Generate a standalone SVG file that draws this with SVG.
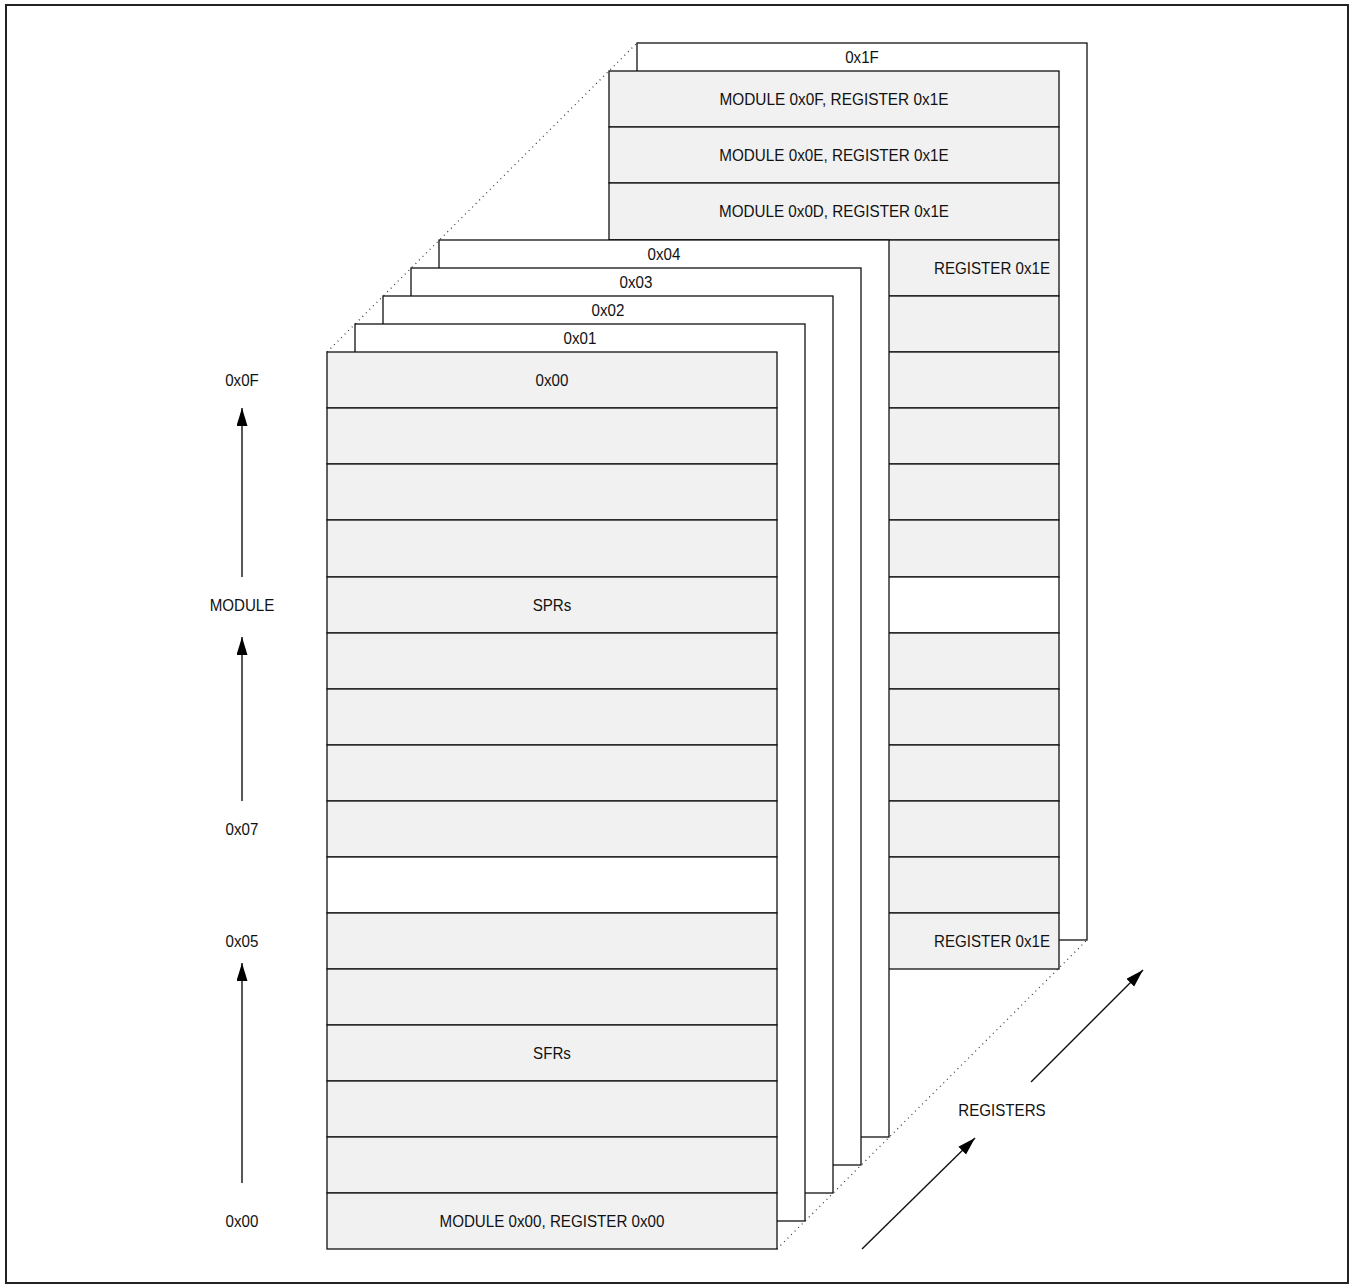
<svg xmlns="http://www.w3.org/2000/svg" width="1351" height="1285" viewBox="0 0 1351 1285">
<style>
text{font-family:"Liberation Sans",Arial,sans-serif;font-size:17px;fill:#111;text-anchor:middle}
.lay{fill:#fff;stroke:#111;stroke-width:1.3}
.row{fill:#f1f1f1;stroke:#111;stroke-width:1.3}
.wrow{fill:#fff;stroke:#111;stroke-width:1.3}
.dot{stroke:#333;stroke-width:1.2;stroke-dasharray:1 4;fill:none}
.arr{stroke:#111;stroke-width:1.4;fill:none;marker-end:url(#ah)}
</style>
<defs>
<marker id="ah" markerUnits="userSpaceOnUse" markerWidth="18" markerHeight="12" refX="18" refY="5.5" orient="auto">
<path d="M0,0 L18,5.5 L0,11 z" fill="#000"/>
</marker>
</defs>
<rect x="0" y="0" width="1351" height="1285" fill="#fff"/>
<rect x="6" y="5" width="1342" height="1278" fill="none" stroke="#222" stroke-width="2"/>

<g id="dotted-guides">
<line class="dot" x1="327" y1="352" x2="637" y2="43"/>
<line class="dot" x1="777" y1="1249" x2="1087" y2="940"/>
</g>

<g id="layer-0x1F">
<rect class="lay" x="637" y="43" width="450" height="897"/>
<text x="862" y="63" textLength="33.6" lengthAdjust="spacingAndGlyphs">0x1F</text>
</g>

<g id="layer-0x1E">
<rect class="row" x="609" y="71" width="450" height="56"/>
<rect class="row" x="609" y="127" width="450" height="56"/>
<rect class="row" x="609" y="183" width="450" height="57"/>
<rect class="row" x="609" y="240" width="450" height="56"/>
<rect class="row" x="609" y="296" width="450" height="56"/>
<rect class="row" x="609" y="352" width="450" height="56"/>
<rect class="row" x="609" y="408" width="450" height="56"/>
<rect class="row" x="609" y="464" width="450" height="56"/>
<rect class="row" x="609" y="520" width="450" height="57"/>
<rect class="wrow" x="609" y="577" width="450" height="56"/>
<rect class="row" x="609" y="633" width="450" height="56"/>
<rect class="row" x="609" y="689" width="450" height="56"/>
<rect class="row" x="609" y="745" width="450" height="56"/>
<rect class="row" x="609" y="801" width="450" height="56"/>
<rect class="row" x="609" y="857" width="450" height="56"/>
<rect class="row" x="609" y="913" width="450" height="56"/>
<text x="834" y="105" textLength="229" lengthAdjust="spacingAndGlyphs">MODULE 0x0F, REGISTER 0x1E</text>
<text x="834" y="161" textLength="229.5" lengthAdjust="spacingAndGlyphs">MODULE 0x0E, REGISTER 0x1E</text>
<text x="834" y="217" textLength="230" lengthAdjust="spacingAndGlyphs">MODULE 0x0D, REGISTER 0x1E</text>
<text x="992" y="274" textLength="116" lengthAdjust="spacingAndGlyphs">REGISTER 0x1E</text>
<text x="992" y="947" textLength="116" lengthAdjust="spacingAndGlyphs">REGISTER 0x1E</text>
</g>

<g id="layer-0x04">
<rect class="lay" x="439" y="240" width="450" height="897"/>
<text x="664" y="260" textLength="32.8" lengthAdjust="spacingAndGlyphs">0x04</text>
</g>
<g id="layer-0x03">
<rect class="lay" x="411" y="268" width="450" height="897"/>
<text x="636" y="288" textLength="32.8" lengthAdjust="spacingAndGlyphs">0x03</text>
</g>
<g id="layer-0x02">
<rect class="lay" x="383" y="296" width="450" height="897"/>
<text x="608" y="316" textLength="32.8" lengthAdjust="spacingAndGlyphs">0x02</text>
</g>
<g id="layer-0x01">
<rect class="lay" x="355" y="324" width="450" height="897"/>
<text x="580" y="344" textLength="32.8" lengthAdjust="spacingAndGlyphs">0x01</text>
</g>

<g id="layer-0x00">
<rect class="row" x="327" y="352" width="450" height="56"/>
<rect class="row" x="327" y="408" width="450" height="56"/>
<rect class="row" x="327" y="464" width="450" height="56"/>
<rect class="row" x="327" y="520" width="450" height="57"/>
<rect class="row" x="327" y="577" width="450" height="56"/>
<rect class="row" x="327" y="633" width="450" height="56"/>
<rect class="row" x="327" y="689" width="450" height="56"/>
<rect class="row" x="327" y="745" width="450" height="56"/>
<rect class="row" x="327" y="801" width="450" height="56"/>
<rect class="wrow" x="327" y="857" width="450" height="56"/>
<rect class="row" x="327" y="913" width="450" height="56"/>
<rect class="row" x="327" y="969" width="450" height="56"/>
<rect class="row" x="327" y="1025" width="450" height="56"/>
<rect class="row" x="327" y="1081" width="450" height="56"/>
<rect class="row" x="327" y="1137" width="450" height="56"/>
<rect class="row" x="327" y="1193" width="450" height="56"/>
<text x="552" y="386" textLength="32.8" lengthAdjust="spacingAndGlyphs">0x00</text>
<text x="552" y="611" textLength="38.7" lengthAdjust="spacingAndGlyphs">SPRs</text>
<text x="552" y="1059" textLength="37.8" lengthAdjust="spacingAndGlyphs">SFRs</text>
<text x="552" y="1227" textLength="225" lengthAdjust="spacingAndGlyphs">MODULE 0x00, REGISTER 0x00</text>
</g>

<g id="module-axis">
<text x="242" y="386" textLength="33.6" lengthAdjust="spacingAndGlyphs">0x0F</text>
<text x="242" y="611" textLength="64.7" lengthAdjust="spacingAndGlyphs">MODULE</text>
<text x="242" y="835" textLength="32.8" lengthAdjust="spacingAndGlyphs">0x07</text>
<text x="242" y="947" textLength="32.8" lengthAdjust="spacingAndGlyphs">0x05</text>
<text x="242" y="1227" textLength="32.8" lengthAdjust="spacingAndGlyphs">0x00</text>
</g>

<g id="registers-axis">
<text x="1002" y="1116" textLength="87.4" lengthAdjust="spacingAndGlyphs">REGISTERS</text>
</g>

<g id="connectors">
<line class="arr" x1="242" y1="577" x2="242" y2="408"/>
<line class="arr" x1="242" y1="801" x2="242" y2="637"/>
<line class="arr" x1="242" y1="1183" x2="242" y2="963"/>
<line class="arr" x1="862" y1="1249" x2="975" y2="1138"/>
<line class="arr" x1="1031" y1="1082" x2="1143" y2="970"/>
</g>
</svg>
